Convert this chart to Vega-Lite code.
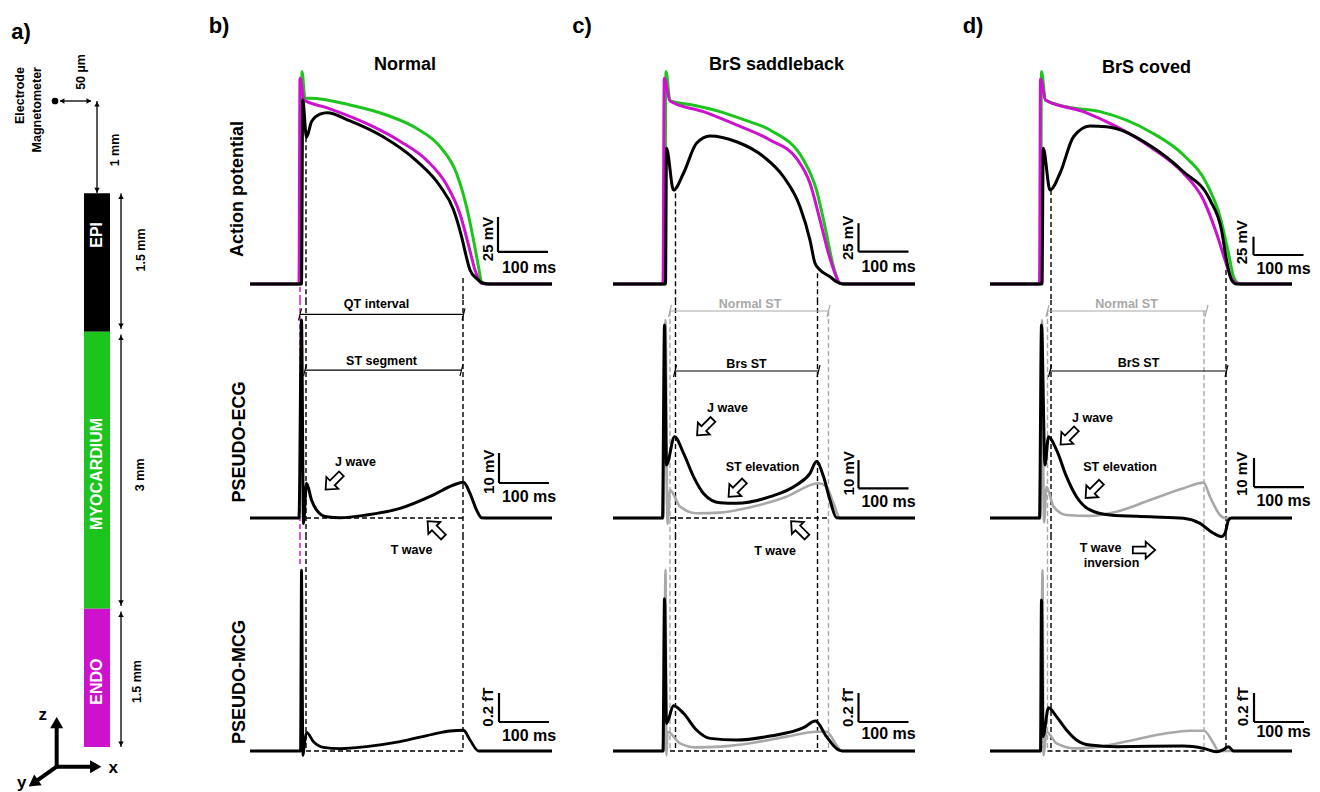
{
"$schema":"https://vega.github.io/schema/vega-lite/v6.json",
"padding":0,"background":"white","spacing":0,
"config":{"font":"Liberation Sans","view":{"stroke":null},"concat":{"spacing":0}},
"hconcat":[
{"width":200,"height":792,
"data":{"values":[
{"k":"rect","s":"k","t":0.910,"t2":1.192,"v":1.0,"v2":2.5},
{"k":"rect","s":"g","t":0.910,"t2":1.192,"v":2.5,"v2":5.5},
{"k":"rect","s":"m","t":0.910,"t2":1.192,"v":5.5,"v2":7.0},
{"k":"tw","s":"w","t":1.051,"v":1.45,"label":"EPI"},
{"k":"tw","s":"w","t":1.051,"v":4.04,"label":"MYOCARDIUM"},
{"k":"tw","s":"w","t":1.051,"v":6.29,"label":"ENDO"},
{"k":"dim","s":"k","t":0.65,"v":0,"t2":0.985,"v2":0},
{"k":"hl","s":"k","t":0.672,"v":0},
{"k":"hr","s":"k","t":0.963,"v":0},
{"k":"dim","s":"k","t":1.051,"v":0,"t2":1.051,"v2":1.0},
{"k":"hu","s":"k","t":1.051,"v":0.035},
{"k":"hd","s":"k","t":1.051,"v":0.965},
{"k":"dim","s":"k","t":1.311,"v":1.0,"t2":1.311,"v2":2.47},
{"k":"hu","s":"k","t":1.311,"v":1.035},
{"k":"hd","s":"k","t":1.311,"v":2.435},
{"k":"dim","s":"k","t":1.311,"v":2.53,"t2":1.311,"v2":5.47},
{"k":"hu","s":"k","t":1.311,"v":2.565},
{"k":"hd","s":"k","t":1.311,"v":5.435},
{"k":"dim","s":"k","t":1.311,"v":5.53,"t2":1.311,"v2":7.0},
{"k":"hu","s":"k","t":1.311,"v":5.565},
{"k":"hd","s":"k","t":1.311,"v":6.965},
{"k":"t","s":"k","t":0.878,"v":-0.314,"label":"50 µm"},
{"k":"t","s":"k","t":1.246,"v":0.531,"label":"1 mm"},
{"k":"t","s":"k","t":1.528,"v":1.614,"label":"1.5 mm"},
{"k":"t","s":"k","t":1.52,"v":4.05,"label":"3 mm"},
{"k":"t","s":"k","t":1.484,"v":6.29,"label":"1.5 mm"},
{"k":"te","s":"k","t":0.217,"v":-0.368,"label":"Electrode"},
{"k":"te","s":"k","t":0.406,"v":-0.368,"label":"Magnetometer"},
{"k":"dot","s":"k","t":0.596,"v":0},
{"k":"ax","s":"k","t":0.614,"v":7.212,"t2":0.614,"v2":6.75},
{"k":"ax","s":"k","t":0.614,"v":7.212,"t2":1.03,"v2":7.212},
{"k":"ax","s":"k","t":0.614,"v":7.212,"t2":0.37,"v2":7.385},
{"k":"Hu","s":"k","t":0.614,"v":6.735},
{"k":"Hr","s":"k","t":1.037,"v":7.212},
{"k":"Hdl","s":"k","t":0.361,"v":7.391},
{"k":"axl","s":"k","t":0.463,"v":6.65,"label":"z"},
{"k":"axl","s":"k","t":1.228,"v":7.226,"label":"x"},
{"k":"axl","s":"k","t":0.235,"v":7.392,"label":"y"},
{"k":"lab","s":"k","t":0.228,"v":-0.672,"label":"a)"}
]},
"encoding":{
"x":{"field":"t","type":"quantitative","scale":{"domain":[0,2.1668],"nice":false,"zero":false},"axis":null},
"y":{"field":"v","type":"quantitative","scale":{"domain":[-1.0943,7.4865],"reverse":true,"nice":false,"zero":false},"axis":null},
"color":{"field":"s","type":"nominal","scale":{"domain":["g","m","k","n","w"],"range":["#1dc41d","#cc12cc","#000000","#a8a8a8","#ffffff"]},"legend":null}},
"layer":[
{"transform":[{"filter":"datum.k=='rect'"}],"mark":{"type":"rect"},"encoding":{"x2":{"field":"t2"},"y2":{"field":"v2"}}},
{"transform":[{"filter":"datum.k=='dim'"}],"mark":{"type":"rule","strokeWidth":1.3},"encoding":{"x2":{"field":"t2"},"y2":{"field":"v2"}}},
{"transform":[{"filter":"datum.k=='ax'"}],"mark":{"type":"rule","strokeWidth":4},"encoding":{"x2":{"field":"t2"},"y2":{"field":"v2"}}},
{"transform":[{"filter":"datum.k=='hu'"}],"mark":{"type":"point","shape":"triangle-up","size":30,"filled":true,"opacity":1}},
{"transform":[{"filter":"datum.k=='hd'"}],"mark":{"type":"point","shape":"triangle-down","size":30,"filled":true,"opacity":1}},
{"transform":[{"filter":"datum.k=='hl'"}],"mark":{"type":"point","shape":"triangle-left","size":30,"filled":true,"opacity":1}},
{"transform":[{"filter":"datum.k=='hr'"}],"mark":{"type":"point","shape":"triangle-right","size":30,"filled":true,"opacity":1}},
{"transform":[{"filter":"datum.k=='Hu'"}],"mark":{"type":"point","shape":"triangle-up","size":170,"filled":true,"opacity":1}},
{"transform":[{"filter":"datum.k=='Hr'"}],"mark":{"type":"point","shape":"triangle-right","size":170,"filled":true,"opacity":1}},
{"transform":[{"filter":"datum.k=='Hdl'"}],"mark":{"type":"point","shape":"triangle-up","angle":235,"size":170,"filled":true,"opacity":1}},
{"transform":[{"filter":"datum.k=='dot'"}],"mark":{"type":"point","shape":"circle","size":45,"filled":true,"opacity":1}},
{"transform":[{"filter":"datum.k=='tw'"}],"mark":{"type":"text","fontWeight":"bold","fontSize":16,"angle":270},"encoding":{"text":{"field":"label"}}},
{"transform":[{"filter":"datum.k=='t'"}],"mark":{"type":"text","fontWeight":"bold","fontSize":12.5,"angle":270},"encoding":{"text":{"field":"label"}}},
{"transform":[{"filter":"datum.k=='te'"}],"mark":{"type":"text","fontWeight":"bold","fontSize":12.5,"angle":270,"align":"right"},"encoding":{"text":{"field":"label"}}},
{"transform":[{"filter":"datum.k=='axl'"}],"mark":{"type":"text","fontWeight":"bold","fontSize":17},"encoding":{"text":{"field":"label"}}},
{"transform":[{"filter":"datum.k=='lab'"}],"mark":{"type":"text","fontWeight":"bold","fontSize":22,"baseline":"alphabetic"},"encoding":{"text":{"field":"label"}}}
]},
{"spacing":0,"bounds":"flush","vconcat":[
{"width":372,"height":300,
"data":{"values":[
{"k":"d","s":"m","t":-4,"v":-87.1,"t2":-4,"v2":-96.43},
{"k":"d","s":"k","t":8,"v":19.8,"t2":8,"v2":-96.43},
{"k":"d","s":"k","t":322,"v":-80.7,"t2":322,"v2":-96.43},
{"k":"c","s":"g","t":-104,"v":-85},{"k":"c","s":"g","t":-2,"v":-85},{"k":"c","s":"g","t":0,"v":66.6},{"k":"c","s":"g","t":6,"v":47.6},{"k":"c","s":"g","t":16,"v":47.6},{"k":"c","s":"g","t":96,"v":42.9},{"k":"c","s":"g","t":169,"v":35.7},{"k":"c","s":"g","t":229,"v":26.2},{"k":"c","s":"g","t":276,"v":13.1},{"k":"c","s":"g","t":309,"v":-5.9},{"k":"c","s":"g","t":329,"v":-29.8},{"k":"c","s":"g","t":343,"v":-53.6},{"k":"c","s":"g","t":353,"v":-72.6},{"k":"c","s":"g","t":359,"v":-83.4},{"k":"c","s":"g","t":369,"v":-85},{"k":"c","s":"g","t":500,"v":-85},
{"k":"c","s":"m","t":-104,"v":-85},{"k":"c","s":"m","t":-6,"v":-85},{"k":"c","s":"m","t":-4,"v":61.9},{"k":"c","s":"m","t":4,"v":46.4},{"k":"c","s":"m","t":49,"v":41},{"k":"c","s":"m","t":133,"v":29},{"k":"c","s":"m","t":196,"v":17},{"k":"c","s":"m","t":249,"v":3.5},{"k":"c","s":"m","t":289,"v":-14},{"k":"c","s":"m","t":316,"v":-35},{"k":"c","s":"m","t":333,"v":-57},{"k":"c","s":"m","t":346,"v":-75},{"k":"c","s":"m","t":359,"v":-84.5},{"k":"c","s":"m","t":370,"v":-85},{"k":"c","s":"m","t":500,"v":-85},
{"k":"c","s":"k","t":-104,"v":-85},{"k":"c","s":"k","t":-1,"v":-85},{"k":"c","s":"k","t":1.5,"v":46.4},{"k":"c","s":"k","t":9,"v":19.8},{"k":"c","s":"k","t":19,"v":30.9},{"k":"c","s":"k","t":36,"v":36.3},{"k":"c","s":"k","t":50,"v":37.3},{"k":"c","s":"k","t":96,"v":31.5},{"k":"c","s":"k","t":163,"v":20},{"k":"c","s":"k","t":229,"v":3},{"k":"c","s":"k","t":276,"v":-15},{"k":"c","s":"k","t":303,"v":-32},{"k":"c","s":"k","t":319,"v":-51},{"k":"c","s":"k","t":329,"v":-66},{"k":"c","s":"k","t":336,"v":-75},{"k":"c","s":"k","t":349,"v":-81},{"k":"c","s":"k","t":363,"v":-84.5},{"k":"c","s":"k","t":375,"v":-85},{"k":"c","s":"k","t":500,"v":-85},
{"k":"sb","s":"k","t":392,"v":-62.1,"t2":392,"v2":-37.1},
{"k":"sb","s":"k","t":392,"v":-62.1,"t2":492,"v2":-62.1},
{"k":"lab","s":"k","t":-166,"v":94.3,"label":"b)"},
{"k":"title","s":"k","t":206,"v":71.4,"label":"Normal"},
{"k":"row","s":"k","t":-128,"v":-17.1,"label":"Action potential"},
{"k":"sv","s":"k","t":371,"v":-52.9,"label":"25 mV"},
{"k":"sh","s":"k","t":454,"v":-73.8,"label":"100 ms"}
]},
"encoding":{
"x":{"field":"t","type":"quantitative","scale":{"domain":[-204,540],"nice":false,"zero":false},"axis":null},
"y":{"field":"v","type":"quantitative","scale":{"domain":[-96.43,117.86],"nice":false,"zero":false},"axis":null},
"color":{"field":"s","type":"nominal","scale":{"domain":["g","m","k","n","w"],"range":["#1dc41d","#cc12cc","#000000","#a8a8a8","#ffffff"]},"legend":null}},
"layer":[
{"transform":[{"filter":"datum.k=='d'"}],"mark":{"type":"rule","strokeDash":[5,3],"strokeWidth":1.4},"encoding":{"x2":{"field":"t2"},"y2":{"field":"v2"}}},
{"transform":[{"filter":"datum.k=='c' && datum.s=='g'"}],"mark":{"type":"line","strokeWidth":3,"interpolate":"monotone"}},
{"transform":[{"filter":"datum.k=='c' && datum.s=='m'"}],"mark":{"type":"line","strokeWidth":3,"interpolate":"monotone"}},
{"transform":[{"filter":"datum.k=='c' && datum.s=='k'"}],"mark":{"type":"line","strokeWidth":3,"interpolate":"monotone"}},
{"transform":[{"filter":"datum.k=='sb'"}],"mark":{"type":"rule","strokeWidth":2.2},"encoding":{"x2":{"field":"t2"},"y2":{"field":"v2"}}},
{"transform":[{"filter":"datum.k=='lab'"}],"mark":{"type":"text","fontWeight":"bold","fontSize":22,"baseline":"alphabetic"},"encoding":{"text":{"field":"label"}}},
{"transform":[{"filter":"datum.k=='title'"}],"mark":{"type":"text","fontWeight":"bold","fontSize":18},"encoding":{"text":{"field":"label"}}},
{"transform":[{"filter":"datum.k=='row'"}],"mark":{"type":"text","fontWeight":"bold","fontSize":18,"angle":270},"encoding":{"text":{"field":"label"}}},
{"transform":[{"filter":"datum.k=='sv'"}],"mark":{"type":"text","fontWeight":"bold","fontSize":15,"angle":270},"encoding":{"text":{"field":"label"}}},
{"transform":[{"filter":"datum.k=='sh'"}],"mark":{"type":"text","fontWeight":"bold","fontSize":16},"encoding":{"text":{"field":"label"}}}
]},
{"width":372,"height":235,
"data":{"values":[
{"k":"d","s":"m","t":-4,"v":72.667,"t2":-4,"v2":-5.667},
{"k":"d","s":"k","t":8,"v":72.667,"t2":8,"v2":-5.667},
{"k":"d","s":"k","t":322,"v":72.667,"t2":322,"v2":-5.667},
{"k":"d","s":"k","t":8,"v":0,"t2":322,"v2":0},
{"k":"b","s":"k","t":-4,"v":67.9,"t2":323,"v2":67.9},
{"k":"b","s":"k","t":-7,"v":65.9,"t2":-1,"v2":69.9},
{"k":"b","s":"k","t":320,"v":65.9,"t2":326,"v2":69.9},
{"k":"b","s":"k","t":6,"v":49.3,"t2":319,"v2":49.3},
{"k":"b","s":"k","t":3,"v":47.3,"t2":9,"v2":51.3},
{"k":"b","s":"k","t":316,"v":47.3,"t2":322,"v2":51.3},
{"k":"c","s":"k","t":-104,"v":0},{"k":"c","s":"k","t":-6,"v":0},{"k":"c","s":"k","t":-1,"v":66},{"k":"c","s":"k","t":3,"v":-1.8},{"k":"c","s":"k","t":9,"v":11.6},{"k":"c","s":"k","t":19,"v":6},{"k":"c","s":"k","t":29,"v":2.7},{"k":"c","s":"k","t":49,"v":0.4},{"k":"c","s":"k","t":76,"v":0.1},{"k":"c","s":"k","t":129,"v":1},{"k":"c","s":"k","t":196,"v":3.2},{"k":"c","s":"k","t":263,"v":7.7},{"k":"c","s":"k","t":303,"v":11},{"k":"c","s":"k","t":323,"v":11.9},{"k":"c","s":"k","t":336,"v":8.2},{"k":"c","s":"k","t":349,"v":2.7},{"k":"c","s":"k","t":359,"v":0.1},{"k":"c","s":"k","t":370,"v":0},{"k":"c","s":"k","t":500,"v":0},
{"k":"sb","s":"k","t":394,"v":11.67,"t2":394,"v2":21.67},
{"k":"sb","s":"k","t":394,"v":11.67,"t2":494,"v2":11.67},
{"k":"aDL","s":"k","t":63,"v":12.1},
{"k":"aUL","s":"k","t":267,"v":-3.7},
{"k":"ann","s":"k","t":149,"v":71.3,"label":"QT interval"},
{"k":"ann","s":"k","t":159,"v":52.4,"label":"ST segment"},
{"k":"ann","s":"k","t":107,"v":18.8,"label":"J wave"},
{"k":"row","s":"k","t":-124,"v":25.3,"label":"PSEUDO-ECG"},
{"k":"sv","s":"k","t":374,"v":15.4,"label":"10 mV"},
{"k":"sh","s":"k","t":454,"v":7.1,"label":"100 ms"}
]},
"encoding":{
"x":{"field":"t","type":"quantitative","scale":{"domain":[-204,540],"nice":false,"zero":false},"axis":null},
"y":{"field":"v","type":"quantitative","scale":{"domain":[-5.667,72.667],"nice":false,"zero":false},"axis":null},
"color":{"field":"s","type":"nominal","scale":{"domain":["g","m","k","n","w"],"range":["#1dc41d","#cc12cc","#000000","#a8a8a8","#ffffff"]},"legend":null}},
"layer":[
{"transform":[{"filter":"datum.k=='d'"}],"mark":{"type":"rule","strokeDash":[5,3],"strokeWidth":1.4},"encoding":{"x2":{"field":"t2"},"y2":{"field":"v2"}}},
{"transform":[{"filter":"datum.k=='b'"}],"mark":{"type":"rule","strokeWidth":1.2},"encoding":{"x2":{"field":"t2"},"y2":{"field":"v2"}}},
{"transform":[{"filter":"datum.k=='c' && datum.s=='k'"}],"mark":{"type":"line","strokeWidth":3,"interpolate":"monotone"}},
{"transform":[{"filter":"datum.k=='sb'"}],"mark":{"type":"rule","strokeWidth":2.2},"encoding":{"x2":{"field":"t2"},"y2":{"field":"v2"}}},
{"transform":[{"filter":"datum.k=='aDL'"}],"mark":{"type":"point","shape":"M-1,-0.3L0.15,-0.3L0.15,-0.75L1,0L0.15,0.75L0.15,0.3L-1,0.3Z","angle":135,"size":500,"filled":true,"strokeWidth":1.8,"opacity":1},"encoding":{"fill":{"value":"white"},"stroke":{"value":"black"}}},
{"transform":[{"filter":"datum.k=='aUL'"}],"mark":{"type":"point","shape":"M-1,-0.3L0.15,-0.3L0.15,-0.75L1,0L0.15,0.75L0.15,0.3L-1,0.3Z","angle":225,"size":500,"filled":true,"strokeWidth":1.8,"opacity":1},"encoding":{"fill":{"value":"white"},"stroke":{"value":"black"}}},
{"transform":[{"filter":"datum.k=='ann'"}],"mark":{"type":"text","fontWeight":"bold","fontSize":12.5},"encoding":{"text":{"field":"label"}}},
{"transform":[{"filter":"datum.k=='row'"}],"mark":{"type":"text","fontWeight":"bold","fontSize":18,"angle":270},"encoding":{"text":{"field":"label"}}},
{"transform":[{"filter":"datum.k=='sv'"}],"mark":{"type":"text","fontWeight":"bold","fontSize":15,"angle":270},"encoding":{"text":{"field":"label"}}},
{"transform":[{"filter":"datum.k=='sh'"}],"mark":{"type":"text","fontWeight":"bold","fontSize":16},"encoding":{"text":{"field":"label"}}}
]},
{"width":372,"height":257,
"data":{"values":[
{"k":"d","s":"m","t":-4,"v":1.4897,"t2":-4,"v2":1.283},
{"k":"d","s":"k","t":8,"v":1.4897,"t2":8,"v2":0},
{"k":"d","s":"k","t":322,"v":1.4897,"t2":322,"v2":0},
{"k":"d","s":"k","t":8,"v":0,"t2":322,"v2":0},
{"k":"c","s":"k","t":-104,"v":0},{"k":"c","s":"k","t":-3,"v":0},{"k":"c","s":"k","t":-1,"v":1.248},{"k":"c","s":"k","t":2,"v":-0.03},{"k":"c","s":"k","t":4,"v":0.02},{"k":"c","s":"k","t":9,"v":0.129},{"k":"c","s":"k","t":23,"v":0.064},{"k":"c","s":"k","t":43,"v":0.025},{"k":"c","s":"k","t":76,"v":0.016},{"k":"c","s":"k","t":129,"v":0.03},{"k":"c","s":"k","t":196,"v":0.064},{"k":"c","s":"k","t":263,"v":0.117},{"k":"c","s":"k","t":296,"v":0.138},{"k":"c","s":"k","t":323,"v":0.143},{"k":"c","s":"k","t":336,"v":0.076},{"k":"c","s":"k","t":353,"v":0},{"k":"c","s":"k","t":500,"v":0},
{"k":"sb","s":"k","t":394,"v":0.2,"t2":394,"v2":0.4},
{"k":"sb","s":"k","t":394,"v":0.2,"t2":494,"v2":0.2},
{"k":"ann","s":"k","t":219,"v":1.386,"label":"T wave"},
{"k":"row","s":"k","t":-124,"v":0.476,"label":"PSEUDO-MCG"},
{"k":"sv","s":"k","t":371,"v":0.303,"label":"0.2 fT"},
{"k":"sh","s":"k","t":454,"v":0.103,"label":"100 ms"}
]},
"encoding":{
"x":{"field":"t","type":"quantitative","scale":{"domain":[-204,540],"nice":false,"zero":false},"axis":null},
"y":{"field":"v","type":"quantitative","scale":{"domain":[-0.2828,1.4897],"nice":false,"zero":false},"axis":null},
"color":{"field":"s","type":"nominal","scale":{"domain":["g","m","k","n","w"],"range":["#1dc41d","#cc12cc","#000000","#a8a8a8","#ffffff"]},"legend":null}},
"layer":[
{"transform":[{"filter":"datum.k=='d'"}],"mark":{"type":"rule","strokeDash":[5,3],"strokeWidth":1.4},"encoding":{"x2":{"field":"t2"},"y2":{"field":"v2"}}},
{"transform":[{"filter":"datum.k=='c' && datum.s=='k'"}],"mark":{"type":"line","strokeWidth":2.8,"interpolate":"monotone"}},
{"transform":[{"filter":"datum.k=='sb'"}],"mark":{"type":"rule","strokeWidth":2.2},"encoding":{"x2":{"field":"t2"},"y2":{"field":"v2"}}},
{"transform":[{"filter":"datum.k=='ann'"}],"mark":{"type":"text","fontWeight":"bold","fontSize":12.5},"encoding":{"text":{"field":"label"}}},
{"transform":[{"filter":"datum.k=='row'"}],"mark":{"type":"text","fontWeight":"bold","fontSize":18,"angle":270},"encoding":{"text":{"field":"label"}}},
{"transform":[{"filter":"datum.k=='sv'"}],"mark":{"type":"text","fontWeight":"bold","fontSize":15,"angle":270},"encoding":{"text":{"field":"label"}}},
{"transform":[{"filter":"datum.k=='sh'"}],"mark":{"type":"text","fontWeight":"bold","fontSize":16},"encoding":{"text":{"field":"label"}}}
]}
]},
{"spacing":0,"bounds":"flush","vconcat":[
{"width":378,"height":300,
"data":{"values":[
{"k":"d","s":"k","t":21,"v":-20.2,"t2":21,"v2":-96.43},
{"k":"d","s":"k","t":305,"v":-77.4,"t2":305,"v2":-96.43},
{"k":"c","s":"g","t":-104,"v":-85},{"k":"c","s":"g","t":-1,"v":-85},{"k":"c","s":"g","t":2,"v":66.6},{"k":"c","s":"g","t":10,"v":46},{"k":"c","s":"g","t":60,"v":42.5},{"k":"c","s":"g","t":110,"v":38.1},{"k":"c","s":"g","t":160,"v":32},{"k":"c","s":"g","t":210,"v":25},{"k":"c","s":"g","t":277,"v":3.6},{"k":"c","s":"g","t":303,"v":-17.9},{"k":"c","s":"g","t":320,"v":-44.1},{"k":"c","s":"g","t":337,"v":-72.6},{"k":"c","s":"g","t":350,"v":-84.5},{"k":"c","s":"g","t":360,"v":-85},{"k":"c","s":"g","t":500,"v":-85},
{"k":"c","s":"m","t":-104,"v":-85},{"k":"c","s":"m","t":-4,"v":-85},{"k":"c","s":"m","t":-1.5,"v":61.9},{"k":"c","s":"m","t":10,"v":45.7},{"k":"c","s":"m","t":77,"v":38.1},{"k":"c","s":"m","t":143,"v":28.6},{"k":"c","s":"m","t":210,"v":17.9},{"k":"c","s":"m","t":263,"v":4.8},{"k":"c","s":"m","t":290,"v":-13.1},{"k":"c","s":"m","t":310,"v":-39.3},{"k":"c","s":"m","t":327,"v":-63.1},{"k":"c","s":"m","t":340,"v":-77.4},{"k":"c","s":"m","t":350,"v":-84.5},{"k":"c","s":"m","t":360,"v":-85},{"k":"c","s":"m","t":500,"v":-85},
{"k":"c","s":"k","t":-104,"v":-85},{"k":"c","s":"k","t":1,"v":-85},{"k":"c","s":"k","t":3,"v":11.9},{"k":"c","s":"k","t":17,"v":-17.9},{"k":"c","s":"k","t":37,"v":-5.9},{"k":"c","s":"k","t":63,"v":15.5},{"k":"c","s":"k","t":90,"v":20.7},{"k":"c","s":"k","t":143,"v":16.6},{"k":"c","s":"k","t":197,"v":6},{"k":"c","s":"k","t":237,"v":-8.4},{"k":"c","s":"k","t":270,"v":-29.8},{"k":"c","s":"k","t":290,"v":-53.6},{"k":"c","s":"k","t":300,"v":-70.2},{"k":"c","s":"k","t":310,"v":-75},{"k":"c","s":"k","t":330,"v":-79.8},{"k":"c","s":"k","t":343,"v":-83.4},{"k":"c","s":"k","t":355,"v":-85},{"k":"c","s":"k","t":500,"v":-85},
{"k":"sb","s":"k","t":387,"v":-61.9,"t2":387,"v2":-41.6},
{"k":"sb","s":"k","t":387,"v":-61.9,"t2":487,"v2":-61.9},
{"k":"lab","s":"k","t":-166,"v":94.3,"label":"c)"},
{"k":"title","s":"k","t":223,"v":71.4,"label":"BrS saddleback"},
{"k":"sv","s":"k","t":365,"v":-52.1,"label":"25 mV"},
{"k":"sh","s":"k","t":447,"v":-72.6,"label":"100 ms"}
]},
"encoding":{
"x":{"field":"t","type":"quantitative","scale":{"domain":[-186,570],"nice":false,"zero":false},"axis":null},
"y":{"field":"v","type":"quantitative","scale":{"domain":[-96.43,117.86],"nice":false,"zero":false},"axis":null},
"color":{"field":"s","type":"nominal","scale":{"domain":["g","m","k","n","w"],"range":["#1dc41d","#cc12cc","#000000","#a8a8a8","#ffffff"]},"legend":null}},
"layer":[
{"transform":[{"filter":"datum.k=='d'"}],"mark":{"type":"rule","strokeDash":[5,3],"strokeWidth":1.4},"encoding":{"x2":{"field":"t2"},"y2":{"field":"v2"}}},
{"transform":[{"filter":"datum.k=='c' && datum.s=='g'"}],"mark":{"type":"line","strokeWidth":3,"interpolate":"monotone"}},
{"transform":[{"filter":"datum.k=='c' && datum.s=='m'"}],"mark":{"type":"line","strokeWidth":3,"interpolate":"monotone"}},
{"transform":[{"filter":"datum.k=='c' && datum.s=='k'"}],"mark":{"type":"line","strokeWidth":3,"interpolate":"monotone"}},
{"transform":[{"filter":"datum.k=='sb'"}],"mark":{"type":"rule","strokeWidth":2.2},"encoding":{"x2":{"field":"t2"},"y2":{"field":"v2"}}},
{"transform":[{"filter":"datum.k=='lab'"}],"mark":{"type":"text","fontWeight":"bold","fontSize":22,"baseline":"alphabetic"},"encoding":{"text":{"field":"label"}}},
{"transform":[{"filter":"datum.k=='title'"}],"mark":{"type":"text","fontWeight":"bold","fontSize":18},"encoding":{"text":{"field":"label"}}},
{"transform":[{"filter":"datum.k=='sv'"}],"mark":{"type":"text","fontWeight":"bold","fontSize":15,"angle":270},"encoding":{"text":{"field":"label"}}},
{"transform":[{"filter":"datum.k=='sh'"}],"mark":{"type":"text","fontWeight":"bold","fontSize":16},"encoding":{"text":{"field":"label"}}}
]},
{"width":378,"height":235,
"data":{"values":[
{"k":"d","s":"n","t":10,"v":69,"t2":10,"v2":-5.667},
{"k":"d","s":"n","t":327,"v":69,"t2":327,"v2":-5.667},
{"k":"d","s":"k","t":21,"v":72.667,"t2":21,"v2":-5.667},
{"k":"d","s":"k","t":305,"v":72.667,"t2":305,"v2":-5.667},
{"k":"d","s":"k","t":10,"v":0,"t2":327,"v2":0},
{"k":"b","s":"n","t":10,"v":69,"t2":327,"v2":69},
{"k":"b","s":"n","t":7,"v":67,"t2":13,"v2":71},
{"k":"b","s":"n","t":324,"v":67,"t2":330,"v2":71},
{"k":"b","s":"k","t":20,"v":49,"t2":307,"v2":49},
{"k":"b","s":"k","t":17,"v":47,"t2":23,"v2":51},
{"k":"b","s":"k","t":304,"v":47,"t2":310,"v2":51},
{"k":"c","s":"n","t":-104,"v":0},{"k":"c","s":"n","t":-3,"v":0},{"k":"c","s":"n","t":1,"v":66},{"k":"c","s":"n","t":5,"v":-2},{"k":"c","s":"n","t":10,"v":9.3},{"k":"c","s":"n","t":30,"v":3.8},{"k":"c","s":"n","t":63,"v":1.6},{"k":"c","s":"n","t":110,"v":1.8},{"k":"c","s":"n","t":177,"v":3.8},{"k":"c","s":"n","t":243,"v":7.1},{"k":"c","s":"n","t":307,"v":11.6},{"k":"c","s":"n","t":323,"v":10.4},{"k":"c","s":"n","t":337,"v":4.9},{"k":"c","s":"n","t":350,"v":0},{"k":"c","s":"n","t":500,"v":0},
{"k":"c","s":"k","t":-104,"v":0},{"k":"c","s":"k","t":-5,"v":0},{"k":"c","s":"k","t":-1,"v":64.3},{"k":"c","s":"k","t":3,"v":17.7},{"k":"c","s":"k","t":19,"v":27.1},{"k":"c","s":"k","t":37,"v":21.6},{"k":"c","s":"k","t":57,"v":13.8},{"k":"c","s":"k","t":77,"v":8.2},{"k":"c","s":"k","t":110,"v":5.1},{"k":"c","s":"k","t":143,"v":4.9},{"k":"c","s":"k","t":210,"v":7.1},{"k":"c","s":"k","t":263,"v":11},{"k":"c","s":"k","t":290,"v":14.9},{"k":"c","s":"k","t":303,"v":18.8},{"k":"c","s":"k","t":317,"v":13.8},{"k":"c","s":"k","t":330,"v":6},{"k":"c","s":"k","t":343,"v":0.1},{"k":"c","s":"k","t":355,"v":0},{"k":"c","s":"k","t":500,"v":0},
{"k":"sb","s":"k","t":387,"v":9.9,"t2":387,"v2":19.3},
{"k":"sb","s":"k","t":387,"v":9.9,"t2":487,"v2":9.9},
{"k":"aDL","s":"k","t":80,"v":30.2},
{"k":"aDL","s":"k","t":143,"v":9.7},
{"k":"aUL","s":"k","t":268,"v":-3.7},
{"k":"ann","s":"n","t":170,"v":71.3,"label":"Normal ST"},
{"k":"ann","s":"k","t":163,"v":51.3,"label":"Brs ST"},
{"k":"ann","s":"k","t":125,"v":36.6,"label":"J wave"},
{"k":"ann","s":"k","t":195,"v":17.1,"label":"ST elevation"},
{"k":"sv","s":"k","t":367,"v":14.9,"label":"10 mV"},
{"k":"sh","s":"k","t":447,"v":5.2,"label":"100 ms"}
]},
"encoding":{
"x":{"field":"t","type":"quantitative","scale":{"domain":[-186,570],"nice":false,"zero":false},"axis":null},
"y":{"field":"v","type":"quantitative","scale":{"domain":[-5.667,72.667],"nice":false,"zero":false},"axis":null},
"color":{"field":"s","type":"nominal","scale":{"domain":["g","m","k","n","w"],"range":["#1dc41d","#cc12cc","#000000","#a8a8a8","#ffffff"]},"legend":null}},
"layer":[
{"transform":[{"filter":"datum.k=='d'"}],"mark":{"type":"rule","strokeDash":[5,3],"strokeWidth":1.4},"encoding":{"x2":{"field":"t2"},"y2":{"field":"v2"}}},
{"transform":[{"filter":"datum.k=='b'"}],"mark":{"type":"rule","strokeWidth":1.2},"encoding":{"x2":{"field":"t2"},"y2":{"field":"v2"}}},
{"transform":[{"filter":"datum.k=='c' && datum.s=='n'"}],"mark":{"type":"line","strokeWidth":2.6,"interpolate":"monotone"}},
{"transform":[{"filter":"datum.k=='c' && datum.s=='k'"}],"mark":{"type":"line","strokeWidth":3,"interpolate":"monotone"}},
{"transform":[{"filter":"datum.k=='sb'"}],"mark":{"type":"rule","strokeWidth":2.2},"encoding":{"x2":{"field":"t2"},"y2":{"field":"v2"}}},
{"transform":[{"filter":"datum.k=='aDL'"}],"mark":{"type":"point","shape":"M-1,-0.3L0.15,-0.3L0.15,-0.75L1,0L0.15,0.75L0.15,0.3L-1,0.3Z","angle":135,"size":500,"filled":true,"strokeWidth":1.8,"opacity":1},"encoding":{"fill":{"value":"white"},"stroke":{"value":"black"}}},
{"transform":[{"filter":"datum.k=='aUL'"}],"mark":{"type":"point","shape":"M-1,-0.3L0.15,-0.3L0.15,-0.75L1,0L0.15,0.75L0.15,0.3L-1,0.3Z","angle":225,"size":500,"filled":true,"strokeWidth":1.8,"opacity":1},"encoding":{"fill":{"value":"white"},"stroke":{"value":"black"}}},
{"transform":[{"filter":"datum.k=='ann'"}],"mark":{"type":"text","fontWeight":"bold","fontSize":12.5},"encoding":{"text":{"field":"label"}}},
{"transform":[{"filter":"datum.k=='sv'"}],"mark":{"type":"text","fontWeight":"bold","fontSize":15,"angle":270},"encoding":{"text":{"field":"label"}}},
{"transform":[{"filter":"datum.k=='sh'"}],"mark":{"type":"text","fontWeight":"bold","fontSize":16},"encoding":{"text":{"field":"label"}}}
]},
{"width":378,"height":257,
"data":{"values":[
{"k":"d","s":"n","t":10,"v":1.4897,"t2":10,"v2":0},
{"k":"d","s":"n","t":327,"v":1.4897,"t2":327,"v2":0},
{"k":"d","s":"k","t":21,"v":1.4897,"t2":21,"v2":0},
{"k":"d","s":"k","t":305,"v":1.4897,"t2":305,"v2":0},
{"k":"d","s":"k","t":10,"v":0,"t2":327,"v2":0},
{"k":"c","s":"n","t":-104,"v":0},{"k":"c","s":"n","t":-2,"v":0},{"k":"c","s":"n","t":1,"v":1.25},{"k":"c","s":"n","t":3,"v":-0.03},{"k":"c","s":"n","t":5,"v":0.133},{"k":"c","s":"n","t":30,"v":0.053},{"k":"c","s":"n","t":63,"v":0.025},{"k":"c","s":"n","t":110,"v":0.03},{"k":"c","s":"n","t":177,"v":0.057},{"k":"c","s":"n","t":243,"v":0.099},{"k":"c","s":"n","t":303,"v":0.133},{"k":"c","s":"n","t":323,"v":0.133},{"k":"c","s":"n","t":343,"v":0.041},{"k":"c","s":"n","t":353,"v":0},{"k":"c","s":"n","t":500,"v":0},
{"k":"c","s":"k","t":-104,"v":0},{"k":"c","s":"k","t":-4,"v":0},{"k":"c","s":"k","t":-1,"v":1.05},{"k":"c","s":"k","t":3,"v":0.19},{"k":"c","s":"k","t":17,"v":0.312},{"k":"c","s":"k","t":37,"v":0.26},{"k":"c","s":"k","t":63,"v":0.145},{"k":"c","s":"k","t":90,"v":0.087},{"k":"c","s":"k","t":143,"v":0.076},{"k":"c","s":"k","t":210,"v":0.103},{"k":"c","s":"k","t":277,"v":0.161},{"k":"c","s":"k","t":301,"v":0.207},{"k":"c","s":"k","t":323,"v":0.099},{"k":"c","s":"k","t":347,"v":0.007},{"k":"c","s":"k","t":355,"v":0},{"k":"c","s":"k","t":500,"v":0},
{"k":"sb","s":"k","t":387,"v":0.2,"t2":387,"v2":0.4},
{"k":"sb","s":"k","t":387,"v":0.2,"t2":487,"v2":0.2},
{"k":"ann","s":"k","t":220,"v":1.381,"label":"T wave"},
{"k":"sv","s":"k","t":365,"v":0.301,"label":"0.2 fT"},
{"k":"sh","s":"k","t":447,"v":0.117,"label":"100 ms"}
]},
"encoding":{
"x":{"field":"t","type":"quantitative","scale":{"domain":[-186,570],"nice":false,"zero":false},"axis":null},
"y":{"field":"v","type":"quantitative","scale":{"domain":[-0.2828,1.4897],"nice":false,"zero":false},"axis":null},
"color":{"field":"s","type":"nominal","scale":{"domain":["g","m","k","n","w"],"range":["#1dc41d","#cc12cc","#000000","#a8a8a8","#ffffff"]},"legend":null}},
"layer":[
{"transform":[{"filter":"datum.k=='d'"}],"mark":{"type":"rule","strokeDash":[5,3],"strokeWidth":1.4},"encoding":{"x2":{"field":"t2"},"y2":{"field":"v2"}}},
{"transform":[{"filter":"datum.k=='c' && datum.s=='n'"}],"mark":{"type":"line","strokeWidth":2.6,"interpolate":"monotone"}},
{"transform":[{"filter":"datum.k=='c' && datum.s=='k'"}],"mark":{"type":"line","strokeWidth":3,"interpolate":"monotone"}},
{"transform":[{"filter":"datum.k=='sb'"}],"mark":{"type":"rule","strokeWidth":2.2},"encoding":{"x2":{"field":"t2"},"y2":{"field":"v2"}}},
{"transform":[{"filter":"datum.k=='ann'"}],"mark":{"type":"text","fontWeight":"bold","fontSize":12.5},"encoding":{"text":{"field":"label"}}},
{"transform":[{"filter":"datum.k=='sv'"}],"mark":{"type":"text","fontWeight":"bold","fontSize":15,"angle":270},"encoding":{"text":{"field":"label"}}},
{"transform":[{"filter":"datum.k=='sh'"}],"mark":{"type":"text","fontWeight":"bold","fontSize":16},"encoding":{"text":{"field":"label"}}}
]}
]},
{"spacing":0,"bounds":"flush","vconcat":[
{"width":370,"height":300,
"data":{"values":[
{"k":"d","s":"k","t":18,"v":-17.9,"t2":18,"v2":-96.43},
{"k":"d","s":"k","t":368,"v":-75,"t2":368,"v2":-96.43},
{"k":"c","s":"g","t":-104,"v":-85},{"k":"c","s":"g","t":-3,"v":-85},{"k":"c","s":"g","t":-1,"v":66.6},{"k":"c","s":"g","t":7,"v":46.4},{"k":"c","s":"g","t":49,"v":41.6},{"k":"c","s":"g","t":116,"v":38.1},{"k":"c","s":"g","t":216,"v":23.8},{"k":"c","s":"g","t":283,"v":7.1},{"k":"c","s":"g","t":329,"v":-13.1},{"k":"c","s":"g","t":356,"v":-36.9},{"k":"c","s":"g","t":373,"v":-63.1},{"k":"c","s":"g","t":383,"v":-79.8},{"k":"c","s":"g","t":393,"v":-84.5},{"k":"c","s":"g","t":400,"v":-85},{"k":"c","s":"g","t":500,"v":-85},
{"k":"c","s":"m","t":-104,"v":-85},{"k":"c","s":"m","t":-5,"v":-85},{"k":"c","s":"m","t":-3,"v":61.4},{"k":"c","s":"m","t":7,"v":46.4},{"k":"c","s":"m","t":83,"v":38.1},{"k":"c","s":"m","t":149,"v":27.4},{"k":"c","s":"m","t":216,"v":13.1},{"k":"c","s":"m","t":283,"v":-5.9},{"k":"c","s":"m","t":323,"v":-25},{"k":"c","s":"m","t":349,"v":-48.8},{"k":"c","s":"m","t":366,"v":-67.9},{"k":"c","s":"m","t":379,"v":-81},{"k":"c","s":"m","t":390,"v":-84.5},{"k":"c","s":"m","t":400,"v":-85},{"k":"c","s":"m","t":500,"v":-85},
{"k":"c","s":"k","t":-104,"v":-85},{"k":"c","s":"k","t":0,"v":-85},{"k":"c","s":"k","t":2.5,"v":11.9},{"k":"c","s":"k","t":16,"v":-17.9},{"k":"c","s":"k","t":36,"v":-5.9},{"k":"c","s":"k","t":63,"v":20.2},{"k":"c","s":"k","t":96,"v":27.9},{"k":"c","s":"k","t":129,"v":27.4},{"k":"c","s":"k","t":216,"v":13.9},{"k":"c","s":"k","t":283,"v":-4.8},{"k":"c","s":"k","t":336,"v":-25},{"k":"c","s":"k","t":359,"v":-46.4},{"k":"c","s":"k","t":369,"v":-67.9},{"k":"c","s":"k","t":379,"v":-82.1},{"k":"c","s":"k","t":389,"v":-85},{"k":"c","s":"k","t":500,"v":-85},
{"k":"sb","s":"k","t":423,"v":-64.3,"t2":423,"v2":-51.2},
{"k":"sb","s":"k","t":423,"v":-64.3,"t2":523,"v2":-64.3},
{"k":"lab","s":"k","t":-138,"v":94.3,"label":"d)"},
{"k":"title","s":"k","t":209,"v":69.6,"label":"BrS coved"},
{"k":"sv","s":"k","t":399,"v":-55.2,"label":"25 mV"},
{"k":"sh","s":"k","t":483,"v":-74.3,"label":"100 ms"}
]},
"encoding":{
"x":{"field":"t","type":"quantitative","scale":{"domain":[-184,556],"nice":false,"zero":false},"axis":null},
"y":{"field":"v","type":"quantitative","scale":{"domain":[-96.43,117.86],"nice":false,"zero":false},"axis":null},
"color":{"field":"s","type":"nominal","scale":{"domain":["g","m","k","n","w"],"range":["#1dc41d","#cc12cc","#000000","#a8a8a8","#ffffff"]},"legend":null}},
"layer":[
{"transform":[{"filter":"datum.k=='d'"}],"mark":{"type":"rule","strokeDash":[5,3],"strokeWidth":1.4},"encoding":{"x2":{"field":"t2"},"y2":{"field":"v2"}}},
{"transform":[{"filter":"datum.k=='c' && datum.s=='g'"}],"mark":{"type":"line","strokeWidth":3,"interpolate":"monotone"}},
{"transform":[{"filter":"datum.k=='c' && datum.s=='m'"}],"mark":{"type":"line","strokeWidth":3,"interpolate":"monotone"}},
{"transform":[{"filter":"datum.k=='c' && datum.s=='k'"}],"mark":{"type":"line","strokeWidth":3,"interpolate":"monotone"}},
{"transform":[{"filter":"datum.k=='sb'"}],"mark":{"type":"rule","strokeWidth":2.2},"encoding":{"x2":{"field":"t2"},"y2":{"field":"v2"}}},
{"transform":[{"filter":"datum.k=='lab'"}],"mark":{"type":"text","fontWeight":"bold","fontSize":22,"baseline":"alphabetic"},"encoding":{"text":{"field":"label"}}},
{"transform":[{"filter":"datum.k=='title'"}],"mark":{"type":"text","fontWeight":"bold","fontSize":18},"encoding":{"text":{"field":"label"}}},
{"transform":[{"filter":"datum.k=='sv'"}],"mark":{"type":"text","fontWeight":"bold","fontSize":15,"angle":270},"encoding":{"text":{"field":"label"}}},
{"transform":[{"filter":"datum.k=='sh'"}],"mark":{"type":"text","fontWeight":"bold","fontSize":16},"encoding":{"text":{"field":"label"}}}
]},
{"width":370,"height":235,
"data":{"values":[
{"k":"d","s":"n","t":11,"v":69,"t2":11,"v2":-5.667},
{"k":"d","s":"n","t":324,"v":69,"t2":324,"v2":-5.667},
{"k":"d","s":"k","t":18,"v":72.667,"t2":18,"v2":-5.667},
{"k":"d","s":"k","t":368,"v":72.667,"t2":368,"v2":-5.667},
{"k":"b","s":"n","t":11,"v":69,"t2":329,"v2":69},
{"k":"b","s":"n","t":8,"v":67,"t2":14,"v2":71},
{"k":"b","s":"n","t":326,"v":67,"t2":332,"v2":71},
{"k":"b","s":"k","t":16,"v":49,"t2":369,"v2":49},
{"k":"b","s":"k","t":13,"v":47,"t2":19,"v2":51},
{"k":"b","s":"k","t":366,"v":47,"t2":372,"v2":51},
{"k":"c","s":"n","t":-104,"v":0},{"k":"c","s":"n","t":-3,"v":0},{"k":"c","s":"n","t":0,"v":66},{"k":"c","s":"n","t":4,"v":-1.5},{"k":"c","s":"n","t":9,"v":10.4},{"k":"c","s":"n","t":23,"v":3.8},{"k":"c","s":"n","t":49,"v":1},{"k":"c","s":"n","t":96,"v":0.7},{"k":"c","s":"n","t":149,"v":2.1},{"k":"c","s":"n","t":216,"v":6},{"k":"c","s":"n","t":283,"v":9.9},{"k":"c","s":"n","t":323,"v":11.8},{"k":"c","s":"n","t":336,"v":7.1},{"k":"c","s":"n","t":356,"v":1},{"k":"c","s":"n","t":366,"v":0},{"k":"c","s":"n","t":500,"v":0},
{"k":"c","s":"k","t":-104,"v":0},{"k":"c","s":"k","t":-5,"v":0},{"k":"c","s":"k","t":-1,"v":64.3},{"k":"c","s":"k","t":6,"v":17.7},{"k":"c","s":"k","t":13,"v":27.1},{"k":"c","s":"k","t":29,"v":22.7},{"k":"c","s":"k","t":49,"v":13.8},{"k":"c","s":"k","t":69,"v":7.1},{"k":"c","s":"k","t":96,"v":2.7},{"k":"c","s":"k","t":136,"v":1},{"k":"c","s":"k","t":216,"v":0.4},{"k":"c","s":"k","t":283,"v":-0.1},{"k":"c","s":"k","t":316,"v":-1.8},{"k":"c","s":"k","t":343,"v":-5.1},{"k":"c","s":"k","t":359,"v":-6.2},{"k":"c","s":"k","t":366,"v":-5.1},{"k":"c","s":"k","t":373,"v":-0.7},{"k":"c","s":"k","t":379,"v":0},{"k":"c","s":"k","t":500,"v":0},
{"k":"sb","s":"k","t":424,"v":10.3,"t2":424,"v2":20},
{"k":"sb","s":"k","t":424,"v":10.3,"t2":524,"v2":10.3},
{"k":"aDL","s":"k","t":53,"v":27.1},
{"k":"aDL","s":"k","t":103,"v":9.3},
{"k":"ann","s":"n","t":169,"v":71.3,"label":"Normal ST"},
{"k":"ann","s":"k","t":193,"v":51.8,"label":"BrS ST"},
{"k":"ann","s":"k","t":101,"v":33.2,"label":"J wave"},
{"k":"ann","s":"k","t":156,"v":17,"label":"ST elevation"},
{"k":"sv","s":"k","t":399,"v":14.7,"label":"10 mV"},
{"k":"sh","s":"k","t":483,"v":5.8,"label":"100 ms"}
]},
"encoding":{
"x":{"field":"t","type":"quantitative","scale":{"domain":[-184,556],"nice":false,"zero":false},"axis":null},
"y":{"field":"v","type":"quantitative","scale":{"domain":[-5.667,72.667],"nice":false,"zero":false},"axis":null},
"color":{"field":"s","type":"nominal","scale":{"domain":["g","m","k","n","w"],"range":["#1dc41d","#cc12cc","#000000","#a8a8a8","#ffffff"]},"legend":null}},
"layer":[
{"transform":[{"filter":"datum.k=='d'"}],"mark":{"type":"rule","strokeDash":[5,3],"strokeWidth":1.4},"encoding":{"x2":{"field":"t2"},"y2":{"field":"v2"}}},
{"transform":[{"filter":"datum.k=='b'"}],"mark":{"type":"rule","strokeWidth":1.2},"encoding":{"x2":{"field":"t2"},"y2":{"field":"v2"}}},
{"transform":[{"filter":"datum.k=='c' && datum.s=='n'"}],"mark":{"type":"line","strokeWidth":2.6,"interpolate":"monotone"}},
{"transform":[{"filter":"datum.k=='c' && datum.s=='k'"}],"mark":{"type":"line","strokeWidth":3,"interpolate":"monotone"}},
{"transform":[{"filter":"datum.k=='sb'"}],"mark":{"type":"rule","strokeWidth":2.2},"encoding":{"x2":{"field":"t2"},"y2":{"field":"v2"}}},
{"transform":[{"filter":"datum.k=='aDL'"}],"mark":{"type":"point","shape":"M-1,-0.3L0.15,-0.3L0.15,-0.75L1,0L0.15,0.75L0.15,0.3L-1,0.3Z","angle":135,"size":500,"filled":true,"strokeWidth":1.8,"opacity":1},"encoding":{"fill":{"value":"white"},"stroke":{"value":"black"}}},
{"transform":[{"filter":"datum.k=='ann'"}],"mark":{"type":"text","fontWeight":"bold","fontSize":12.5},"encoding":{"text":{"field":"label"}}},
{"transform":[{"filter":"datum.k=='sv'"}],"mark":{"type":"text","fontWeight":"bold","fontSize":15,"angle":270},"encoding":{"text":{"field":"label"}}},
{"transform":[{"filter":"datum.k=='sh'"}],"mark":{"type":"text","fontWeight":"bold","fontSize":16},"encoding":{"text":{"field":"label"}}}
]},
{"width":370,"height":257,
"data":{"values":[
{"k":"d","s":"n","t":11,"v":1.4897,"t2":11,"v2":0},
{"k":"d","s":"n","t":324,"v":1.4897,"t2":324,"v2":0},
{"k":"d","s":"k","t":18,"v":1.4897,"t2":18,"v2":0},
{"k":"d","s":"k","t":368,"v":1.4897,"t2":368,"v2":0},
{"k":"d","s":"k","t":11,"v":0,"t2":329,"v2":0},
{"k":"c","s":"n","t":-104,"v":0},{"k":"c","s":"n","t":-2,"v":0},{"k":"c","s":"n","t":1,"v":1.248},{"k":"c","s":"n","t":3,"v":-0.03},{"k":"c","s":"n","t":9,"v":0.133},{"k":"c","s":"n","t":29,"v":0.053},{"k":"c","s":"n","t":69,"v":0.018},{"k":"c","s":"n","t":116,"v":0.03},{"k":"c","s":"n","t":183,"v":0.076},{"k":"c","s":"n","t":249,"v":0.122},{"k":"c","s":"n","t":296,"v":0.14},{"k":"c","s":"n","t":324,"v":0.14},{"k":"c","s":"n","t":343,"v":0.053},{"k":"c","s":"n","t":353,"v":0},{"k":"c","s":"n","t":500,"v":0},
{"k":"c","s":"k","t":-104,"v":0},{"k":"c","s":"k","t":-3,"v":0},{"k":"c","s":"k","t":-1,"v":1.041},{"k":"c","s":"k","t":2,"v":0.1},{"k":"c","s":"k","t":13,"v":0.299},{"k":"c","s":"k","t":29,"v":0.237},{"k":"c","s":"k","t":49,"v":0.145},{"k":"c","s":"k","t":69,"v":0.076},{"k":"c","s":"k","t":96,"v":0.041},{"k":"c","s":"k","t":149,"v":0.03},{"k":"c","s":"k","t":283,"v":0.034},{"k":"c","s":"k","t":323,"v":0.018},{"k":"c","s":"k","t":349,"v":-0.005},{"k":"c","s":"k","t":363,"v":0.01},{"k":"c","s":"k","t":373,"v":0.03},{"k":"c","s":"k","t":383,"v":0},{"k":"c","s":"k","t":500,"v":0},
{"k":"sb","s":"k","t":424,"v":0.2,"t2":424,"v2":0.4},
{"k":"sb","s":"k","t":424,"v":0.2,"t2":524,"v2":0.2},
{"k":"aR","s":"k","t":204,"v":1.386},
{"k":"ann","s":"k","t":117,"v":1.398,"label":"T wave"},
{"k":"ann","s":"k","t":139,"v":1.294,"label":"inversion"},
{"k":"sv","s":"k","t":401,"v":0.306,"label":"0.2 fT"},
{"k":"sh","s":"k","t":483,"v":0.129,"label":"100 ms"}
]},
"encoding":{
"x":{"field":"t","type":"quantitative","scale":{"domain":[-184,556],"nice":false,"zero":false},"axis":null},
"y":{"field":"v","type":"quantitative","scale":{"domain":[-0.2828,1.4897],"nice":false,"zero":false},"axis":null},
"color":{"field":"s","type":"nominal","scale":{"domain":["g","m","k","n","w"],"range":["#1dc41d","#cc12cc","#000000","#a8a8a8","#ffffff"]},"legend":null}},
"layer":[
{"transform":[{"filter":"datum.k=='d'"}],"mark":{"type":"rule","strokeDash":[5,3],"strokeWidth":1.4},"encoding":{"x2":{"field":"t2"},"y2":{"field":"v2"}}},
{"transform":[{"filter":"datum.k=='c' && datum.s=='n'"}],"mark":{"type":"line","strokeWidth":2.6,"interpolate":"monotone"}},
{"transform":[{"filter":"datum.k=='c' && datum.s=='k'"}],"mark":{"type":"line","strokeWidth":3,"interpolate":"monotone"}},
{"transform":[{"filter":"datum.k=='sb'"}],"mark":{"type":"rule","strokeWidth":2.2},"encoding":{"x2":{"field":"t2"},"y2":{"field":"v2"}}},
{"transform":[{"filter":"datum.k=='aR'"}],"mark":{"type":"point","shape":"M-1,-0.3L0.15,-0.3L0.15,-0.75L1,0L0.15,0.75L0.15,0.3L-1,0.3Z","angle":0,"size":500,"filled":true,"strokeWidth":1.8,"opacity":1},"encoding":{"fill":{"value":"white"},"stroke":{"value":"black"}}},
{"transform":[{"filter":"datum.k=='ann'"}],"mark":{"type":"text","fontWeight":"bold","fontSize":12.5},"encoding":{"text":{"field":"label"}}},
{"transform":[{"filter":"datum.k=='sv'"}],"mark":{"type":"text","fontWeight":"bold","fontSize":15,"angle":270},"encoding":{"text":{"field":"label"}}},
{"transform":[{"filter":"datum.k=='sh'"}],"mark":{"type":"text","fontWeight":"bold","fontSize":16},"encoding":{"text":{"field":"label"}}}
]}
]}
]}
